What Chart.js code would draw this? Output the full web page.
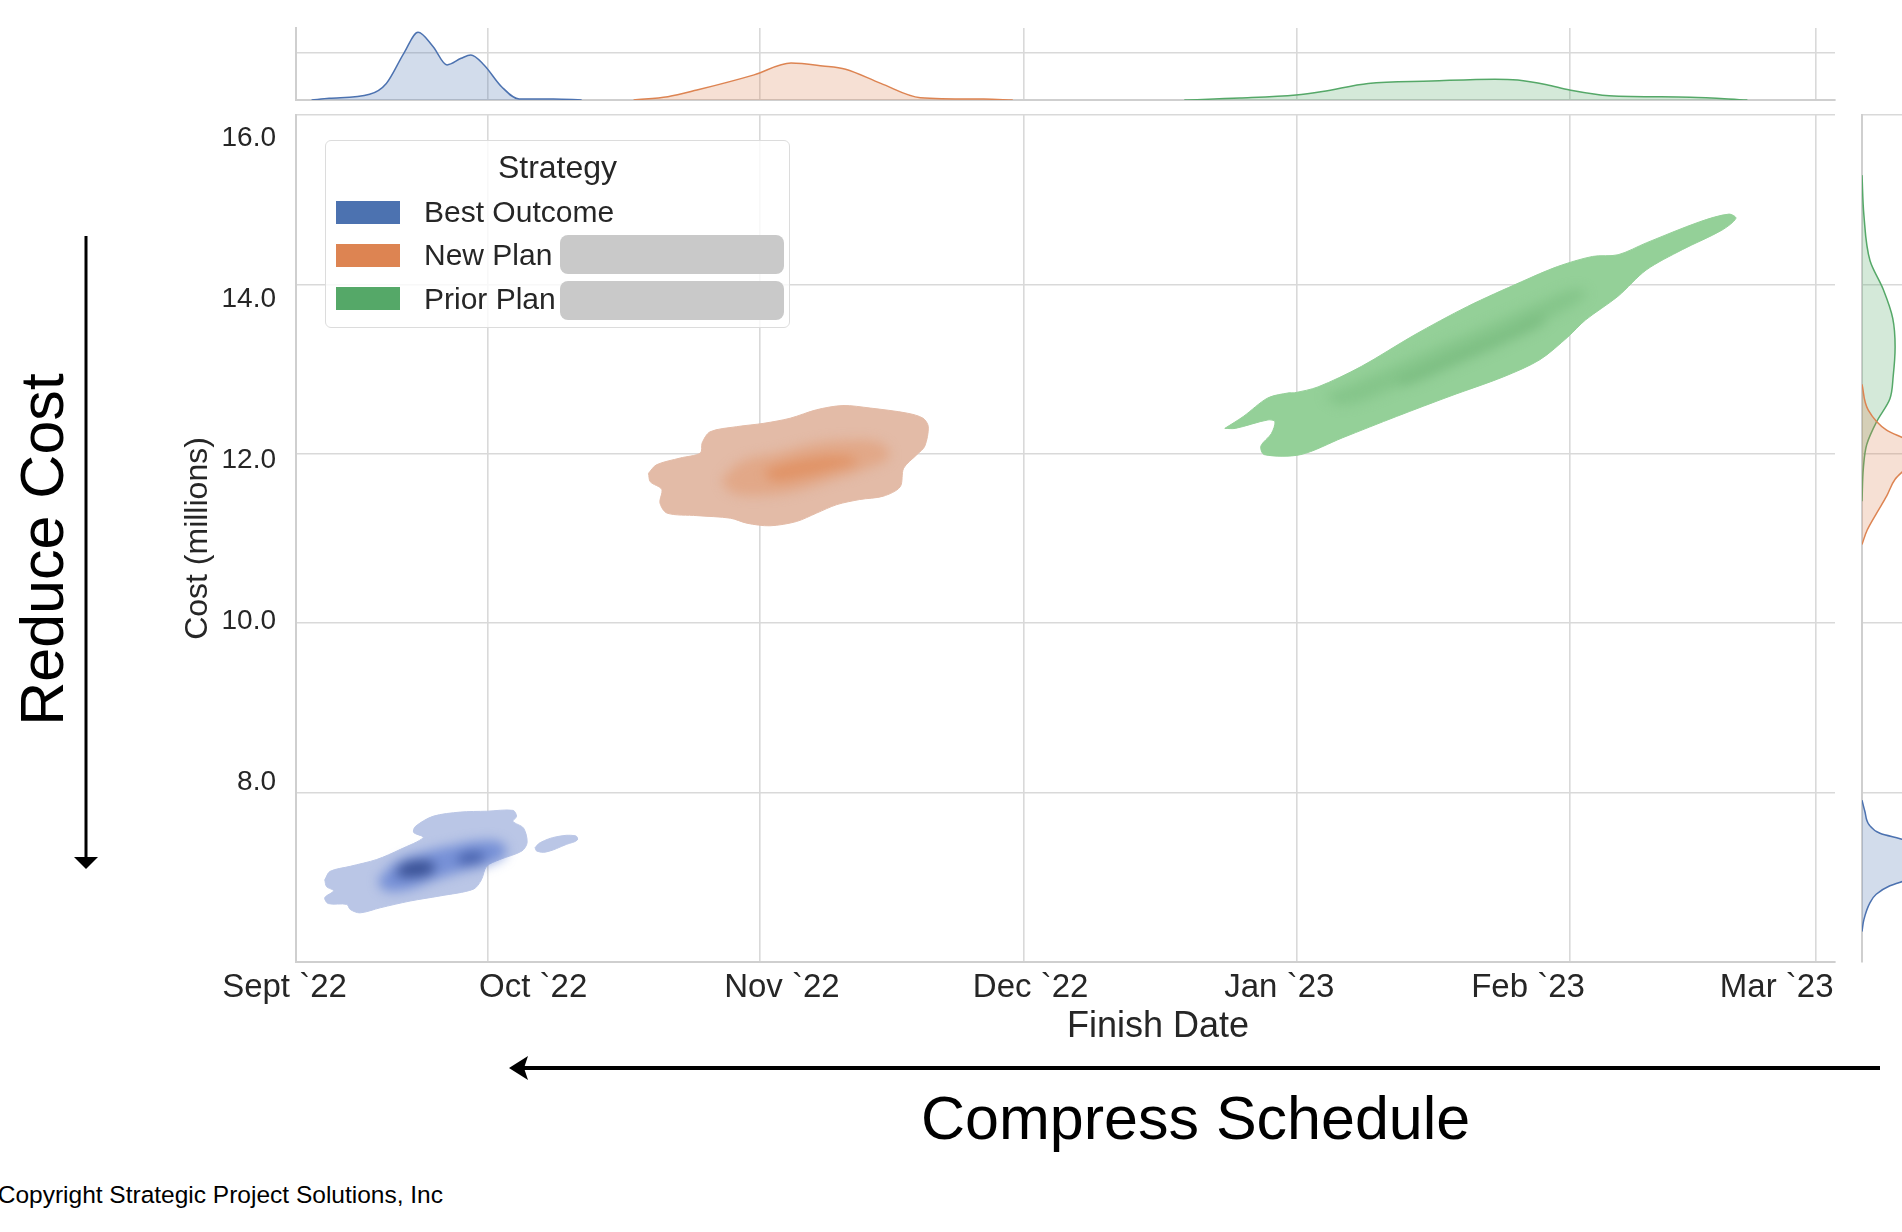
<!DOCTYPE html>
<html>
<head>
<meta charset="utf-8">
<title>Strategy: cost vs finish date</title>
<script src="https://cdn.jsdelivr.net/npm/chart.js@4.4.1/dist/chart.umd.min.js"></script>
<style>
  html, body { margin: 0; padding: 0; background: #fff; }
  body { width: 1902px; height: 1232px; position: relative; overflow: hidden;
         font-family: "Liberation Sans", Arial, Helvetica, sans-serif; color: #262626; }
  canvas { position: absolute; }
  #main, #cores, #top { left: 0; top: 0; }
  #cores { filter: blur(6px); }
  #right { left: 1840px; top: 0; }
  .txt { position: absolute; white-space: nowrap; }
  #legend { position: absolute; left: 325px; top: 140px; width: 465px; height: 188px;
            box-sizing: border-box; border: 1.5px solid #dcdcdc; border-radius: 6px;
            background: rgba(255,255,255,0.8); }
  .swatch { position: absolute; left: 336px; width: 64px; height: 23px; }
  .redact { position: absolute; left: 560px; width: 224px; height: 39px;
            background: #c9c9c9; border-radius: 8px; }
  svg { position: absolute; left: 0; top: 0; }
</style>
</head>
<body>
<canvas id="main" width="1850" height="1060"></canvas>
<canvas id="cores" width="1850" height="1060"></canvas>
<canvas id="top" width="1850" height="110"></canvas>
<canvas id="right" width="150" height="1060"></canvas>
<div id="legend"></div>

<div class="txt" style="left:1058px;top:1007px;width:200px;text-align:center;font-size:36px;line-height:36px;">Finish Date</div>
<div class="txt" style="left:921px;top:1088px;font-size:61px;line-height:61px;color:#000;">Compress Schedule</div>
<div class="txt" style="left:-158px;top:519px;width:400px;text-align:center;font-size:61px;line-height:61px;color:#000;transform:rotate(-90deg);">Reduce Cost</div>
<div class="txt" style="left:-57px;top:1183px;width:500px;text-align:right;font-size:24.5px;line-height:24.5px;color:#000;">Copyright Strategic Project Solutions, Inc</div>

<svg width="1902" height="1232">
  <line x1="86" y1="236" x2="86" y2="860" stroke="#000" stroke-width="3"/>
  <polygon points="74,857 98,857 86,869" fill="#000"/>
  <line x1="522" y1="1068" x2="1880" y2="1068" stroke="#000" stroke-width="4"/>
  <polygon points="509,1068 528,1056 524,1068 528,1080" fill="#000"/>
</svg>

<script>
// x values are days since 1 Sep 2022, y values are cost in millions
const STRATEGIES = ['Best Outcome', 'New Plan', 'Prior Plan'];
const PALETTE = ['#4c72b0', '#dd8452', '#55a868'];

const monthDays = [30, 61, 91, 122, 153, 181];   // Oct 1 .. Mar 1
const xTickLabels = ['Sept `22', 'Oct `22', 'Nov `22', 'Dec `22', 'Jan `23', 'Feb `23', 'Mar `23'];
const yTickValues = [8, 10, 12, 14, 16];

// density outlines: [day, cost]
const bestOuter = [[11.5,6.97],[12.1,7.07],[14.4,7.13],[17.4,7.21],[20.1,7.33],[22.7,7.47],[21.6,7.53],[21.8,7.60],[23.8,7.72],[26.9,7.77],[29.9,7.78],[32.9,7.79],[33.3,7.72],[32.9,7.66],[34.1,7.58],[34.5,7.41],[33.9,7.31],[31.4,7.21],[29.9,7.13],[29.3,6.97],[28.4,6.86],[24.6,6.78],[21.2,6.72],[17.8,6.64],[15.5,6.58],[14.4,6.62],[14.0,6.68],[11.9,6.69],[11.5,6.76],[12.5,6.84],[11.7,6.89],[11.5,6.97]];
const bestIsland = [[35.4,7.35],[36.0,7.41],[37.9,7.48],[40.0,7.49],[40.2,7.44],[39.0,7.39],[36.7,7.30],[35.6,7.31],[35.4,7.35]];
const bestMid = [[17.6,6.97],[19.8,7.19],[23.1,7.30],[25.7,7.36],[28.8,7.42],[31.6,7.40],[32.0,7.27],[29.9,7.15],[26.9,7.07],[23.8,6.97],[20.8,6.86],[18.2,6.86],[17.6,6.97]];
const bestCoreA = [[19.7,7.07],[20.4,7.15],[22.0,7.19],[23.7,7.17],[24.0,7.11],[23.1,7.03],[21.2,7.01],[19.9,7.02],[19.7,7.07]];
const bestCoreB = [[26.5,7.21],[27.3,7.27],[28.8,7.29],[29.7,7.25],[29.3,7.20],[28.0,7.17],[26.9,7.17],[26.5,7.21]];

const newOuter = [[48.3,11.77],[49.2,11.87],[51.9,11.95],[54.2,12.01],[54.4,12.13],[55.3,12.26],[58.3,12.32],[61.4,12.36],[64.4,12.42],[67.4,12.52],[70.4,12.57],[73.5,12.54],[77.7,12.48],[79.5,12.42],[80.1,12.32],[79.7,12.09],[78.8,11.99],[77.3,11.83],[76.9,11.61],[75.0,11.50],[72.3,11.46],[69.7,11.40],[67.4,11.30],[65.1,11.20],[62.1,11.15],[59.5,11.18],[57.6,11.24],[53.8,11.27],[50.4,11.30],[49.6,11.42],[49.8,11.58],[48.5,11.67],[48.3,11.77]];
const newMid = [[56.6,11.69],[58.9,11.90],[63.3,12.01],[67.0,12.11],[70.8,12.15],[74.6,12.12],[75.6,11.97],[72.7,11.82],[68.9,11.69],[65.1,11.57],[61.4,11.52],[57.8,11.55],[56.6,11.69]];
const newCore = [[61.4,11.79],[63.3,11.87],[67.0,11.95],[70.4,11.97],[72.0,11.91],[69.7,11.83],[65.9,11.73],[62.5,11.69],[61.4,11.79]];

const priorOuter = [[113.8,12.30],[115.9,12.44],[118.7,12.66],[121.1,12.72],[121.7,12.72],[124.4,12.79],[129.3,13.03],[135.3,13.40],[141.4,13.74],[147.5,14.03],[151.6,14.21],[155.6,14.33],[158.5,14.35],[161.7,14.49],[167.8,14.74],[171.1,14.83],[171.9,14.78],[170.3,14.64],[165.8,14.41],[161.7,14.17],[158.5,13.86],[154.8,13.58],[152.8,13.38],[149.6,13.11],[145.5,12.91],[139.4,12.68],[133.3,12.44],[127.2,12.19],[122.4,11.99],[118.3,11.99],[117.9,12.09],[119.1,12.24],[119.5,12.38],[118.7,12.40],[115.0,12.30],[113.8,12.30]];
const priorMid = [[125.2,12.68],[131.3,12.95],[137.4,13.23],[143.5,13.50],[149.6,13.78],[153.6,13.94],[154.8,13.88],[151.6,13.66],[145.5,13.35],[139.4,13.07],[133.3,12.79],[127.2,12.58],[125.2,12.68]];
const priorCore = [[133.3,12.87],[139.4,13.15],[145.5,13.42],[149.6,13.62],[150.2,13.56],[146.3,13.35],[140.2,13.07],[134.1,12.81],[133.3,12.87]];

// marginal densities: top is [day, density], right is [cost, density]
const topBest = [[10.0,0],[12.0,0.035],[16.6,0.12],[18.5,0.35],[20.5,0.99],[22.1,1.43],[23.8,1.13],[25.4,0.74],[27.0,0.88],[28.1,0.95],[29.6,0.74],[31.6,0.28],[33.6,0.02],[37.5,0.02],[40.7,0]];
const topNew = [[46.6,0],[50.5,0.07],[53.8,0.21],[60.3,0.53],[64.5,0.78],[68.1,0.72],[70.7,0.65],[74.7,0.35],[79.2,0.05],[86.4,0.02],[89.7,0]];
const topPrior = [[109.2,0],[115.5,0.04],[121.9,0.106],[124.9,0.18],[130.1,0.35],[137.3,0.40],[144.5,0.44],[147.1,0.42],[150.4,0.32],[153.0,0.21],[157.5,0.09],[166.7,0.06],[173.2,0]];
const rightBest = [[6.36,0],[6.50,0.04],[6.70,0.17],[6.80,0.3],[6.90,0.59],[6.98,1.0],[7.20,1.6],[7.44,0.9],[7.52,0.38],[7.62,0.15],[7.78,0.06],[7.91,0]];
const rightNew = [[10.93,0],[11.10,0.11],[11.30,0.31],[11.50,0.52],[11.70,0.70],[11.84,0.95],[12.0,1.2],[12.15,1.0],[12.28,0.52],[12.52,0.13],[12.82,0]];
const rightPrior = [[11.44,0],[11.84,0.03],[12.11,0.10],[12.38,0.31],[12.65,0.59],[12.92,0.66],[13.26,0.70],[13.60,0.65],[13.94,0.45],[14.28,0.17],[14.82,0.04],[15.29,0]];

Chart.defaults.font.family = '"Liberation Sans", Arial, Helvetica, sans-serif';
Chart.defaults.color = '#262626';

const GRID = '#d9d9d9';
const SPINE = '#cfcfcf';
const X_MIN = 8.23, X_MAX = 183.16;

const pts = arr => arr.map(([x, y]) => ({x, y}));
const flip = arr => arr.map(([y, x]) => ({x, y}));

const baseOpts = {
  responsive: false,
  animation: false,
  events: [],
  plugins: { legend: { display: false }, tooltip: { enabled: false } },
  elements: { point: { radius: 0 } }
};

function mainScales(show) {
  const g = show ? GRID : 'transparent';
  return {
    x: {
      type: 'linear', min: X_MIN, max: X_MAX, weight: 0,
      afterBuildTicks: a => { a.ticks = monthDays.map(v => ({value: v})); },
      afterFit: a => { a.height = 0; },
      ticks: { display: false },
      grid: { color: g, lineWidth: 1.6, drawTicks: false },
      border: { display: show, color: SPINE, width: 2 }
    },
    xLab: {
      type: 'linear', position: 'bottom', min: 0.0462, max: 6.2344, weight: 1,
      afterBuildTicks: a => { a.ticks = xTickLabels.map((_, i) => ({value: i})); },
      afterFit: a => { a.height = 80; },
      ticks: { display: show, autoSkip: false, maxRotation: 0, padding: 6,
               font: { size: 33 }, callback: v => xTickLabels[v] },
      grid: { display: false, drawTicks: false },
      border: { display: false }
    },
    y: {
      type: 'linear', min: 6, max: 16, weight: 0,
      afterBuildTicks: a => { a.ticks = [6].concat(yTickValues).map(v => ({value: v})); },
      afterFit: a => { a.width = 0; },
      ticks: { display: false },
      grid: { color: g, lineWidth: 1.6, drawTicks: false },
      border: { display: show, color: SPINE, width: 2 }
    },
    yLab: {
      type: 'linear', position: 'left', min: 5.774, max: 16.289, weight: 1,
      afterBuildTicks: a => { a.ticks = yTickValues.map(v => ({value: v})); },
      afterFit: a => { a.width = 146; },
      ticks: { display: show, padding: 20, font: { size: 28 }, callback: v => v.toFixed(1) },
      grid: { display: false, drawTicks: false },
      border: { display: false },
      title: { display: show, text: 'Cost (millions)', font: { size: 32 }, padding: { top: 29, bottom: 0 } }
    }
  };
}

const mainLayout = { padding: { left: 150, top: 115, right: 15, bottom: 18 } };

function blob(data, color, tension) {
  return { data: pts(data), backgroundColor: color, borderColor: color, borderWidth: 1,
           fill: 'shape', tension: tension, pointRadius: 0 };
}

// outer density level, crisp edges
new Chart(document.getElementById('main'), {
  type: 'line',
  data: { datasets: [
    blob(bestOuter, 'rgb(186,198,230)', 0.3),
    blob(bestIsland, 'rgb(186,198,230)', 0.4),
    blob(newOuter, 'rgb(227,187,167)', 0.3),
    blob(priorOuter, 'rgb(148,208,152)', 0.3)
  ]},
  options: Object.assign({}, baseOpts, { layout: mainLayout, scales: mainScales(true) })
});

// inner density levels, drawn on a blurred layer above
new Chart(document.getElementById('cores'), {
  type: 'line',
  data: { datasets: [
    blob(bestMid, 'rgba(75,110,205,0.6)', 0.4),
    blob(bestCoreA, 'rgba(22,28,55,0.95)', 0.4),
    blob(bestCoreB, 'rgba(30,42,90,0.8)', 0.4),
    blob(newMid, 'rgba(226,150,105,0.5)', 0.4),
    blob(newCore, 'rgba(222,132,78,0.75)', 0.4),
    blob(priorMid, 'rgba(120,188,125,0.5)', 0.4),
    blob(priorCore, 'rgba(112,178,118,0.6)', 0.4)
  ]},
  options: Object.assign({}, baseOpts, { layout: mainLayout, scales: mainScales(false) })
});

function margin(data, i, mapper) {
  const c = PALETTE[i];
  return { data: mapper(data), borderColor: c, backgroundColor: c + '40', borderWidth: 1.5,
           fill: 'origin', cubicInterpolationMode: 'monotone', pointRadius: 0 };
}

// top marginal: finish date density
new Chart(document.getElementById('top'), {
  type: 'line',
  data: { datasets: [margin(topBest, 0, pts), margin(topNew, 1, pts), margin(topPrior, 2, pts)] },
  options: Object.assign({}, baseOpts, {
    layout: { padding: { left: 296, top: 28, right: 15, bottom: 10 } },
    scales: {
      x: { type: 'linear', min: X_MIN, max: X_MAX,
           afterBuildTicks: a => { a.ticks = monthDays.map(v => ({value: v})); },
           afterFit: a => { a.height = 0; },
           ticks: { display: false },
           grid: { color: GRID, lineWidth: 1.6, drawTicks: false },
           border: { color: SPINE, width: 2 } },
      y: { type: 'linear', min: 0, max: 1.52,
           afterBuildTicks: a => { a.ticks = [{value: 0}, {value: 1}]; },
           afterFit: a => { a.width = 0; },
           ticks: { display: false },
           grid: { color: GRID, lineWidth: 1.6, drawTicks: false },
           border: { color: SPINE, width: 2 } }
    }
  })
});

// right marginal: cost density
new Chart(document.getElementById('right'), {
  type: 'line',
  data: { datasets: [margin(rightBest, 0, flip), margin(rightNew, 1, flip), margin(rightPrior, 2, flip)] },
  options: Object.assign({}, baseOpts, {
    indexAxis: 'y',
    layout: { padding: { left: 22, top: 115, right: 0, bottom: 98 } },
    scales: {
      x: { type: 'linear', min: 0, max: 2.706,
           afterBuildTicks: a => { a.ticks = [{value: 1}, {value: 2}]; },
           afterFit: a => { a.height = 0; },
           ticks: { display: false },
           grid: { color: GRID, lineWidth: 1.6, drawTicks: false },
           border: { display: false } },
      y: { type: 'linear', min: 6, max: 16,
           afterBuildTicks: a => { a.ticks = yTickValues.map(v => ({value: v})); },
           afterFit: a => { a.width = 0; },
           ticks: { display: false },
           grid: { color: GRID, lineWidth: 1.6, drawTicks: false },
           border: { color: SPINE, width: 2 } }
    }
  })
});

// legend, with the grey redaction boxes of the original
const body = document.body;
const title = document.createElement('div');
title.className = 'txt';
title.style.cssText = 'left:325px;top:151px;width:465px;text-align:center;font-size:32px;line-height:32px;';
title.textContent = 'Strategy';
body.appendChild(title);
STRATEGIES.forEach((name, i) => {
  const sw = document.createElement('div');
  sw.className = 'swatch';
  sw.style.top = (200.7 + i * 43.3) + 'px';
  sw.style.background = PALETTE[i];
  body.appendChild(sw);
  const t = document.createElement('div');
  t.className = 'txt';
  t.style.cssText = 'left:424px;font-size:30px;line-height:30px;top:' + (196.9 + i * 43.3) + 'px;';
  t.textContent = name;
  body.appendChild(t);
  if (i > 0) {
    const r = document.createElement('div');
    r.className = 'redact';
    r.style.top = (235 + (i - 1) * 45.7) + 'px';
    body.appendChild(r);
  }
});
</script>
</body>
</html>
